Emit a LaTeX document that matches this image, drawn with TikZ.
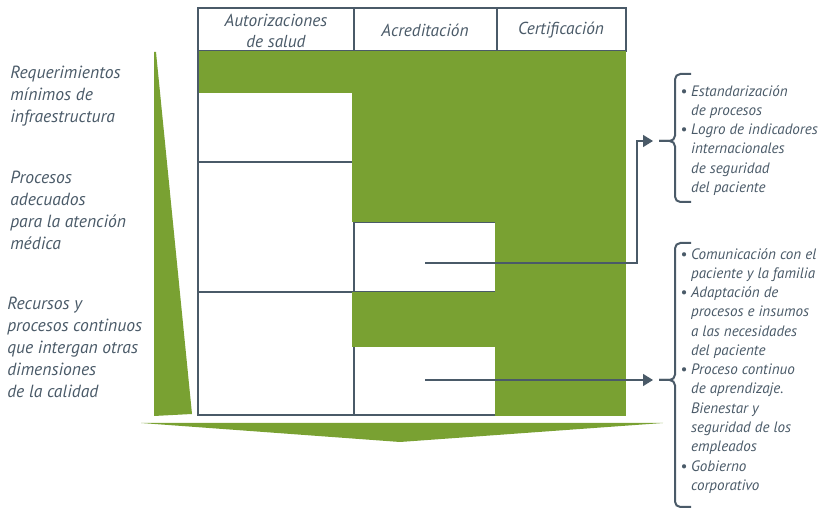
\documentclass[tikz,border=0pt]{standalone}
\usepackage{fontspec}
\setmainfont{PT Sans}
\usetikzlibrary{arrows.meta,calc}
\definecolor{leaf}{RGB}{121,161,50}
\definecolor{slate}{RGB}{74,90,104}

\begin{document}
\begin{tikzpicture}[x=0.75pt, y=-0.75pt,
      grid/.style = {draw=slate, line width=1.1pt},
      head/.style = {align=center, inner sep=0pt, text=slate,
        font=\fontsize{13}{15.75}\selectfont\itshape},
      side/.style = {align=left, anchor=north west, inner sep=0pt, text=slate,
        font=\fontsize{13.2}{16.5}\selectfont\itshape},
      items/.style = {align=left, anchor=north west, inner sep=0pt, text=slate,
        font=\fontsize{11.3}{14.45}\selectfont\itshape},
      link/.style = {draw=slate, line width=1.1pt, -{Triangle[length=7.5pt,width=9pt]}},
      brace/.style = {draw=slate, line width=1.5pt, rounded corners=4pt}]
    \useasboundingbox (0,0) rectangle (826,509);

    % wedges
    \fill[leaf] (154,52) -- (156,52) -- (192,414) -- (154,416) -- cycle;
    \fill[leaf] (141,423) -- (663,423) -- (400,442) -- cycle;

    % table cells
    \draw[grid] (198,8) rectangle (354,51);
    \draw[grid] (354,8) rectangle (497,51);
    \draw[grid] (497,8) rectangle (626,51);
    \draw[grid] (198,51) rectangle (354,162);
    \draw[grid] (198,162) rectangle (354,292);
    \draw[grid] (198,292) rectangle (354,415);
    \draw[grid] (354,222) rectangle (497,292);
    \draw[grid] (354,292) rectangle (497,415);

    % green blocks
    \fill[leaf] (198.7,51) rectangle (626,93);
    \fill[leaf] (352,93) rectangle (626,222);
    \fill[leaf] (495,222) rectangle (626,416);
    \fill[leaf] (352,292) rectangle (626,347);

    % headers
    \node[head] (auth) at (276,31) {Autorizaciones\\de salud};
    \node[head] (accr) at (425,30) {Acreditación};
    \node[head] (cert) at (561,30) {Certificación};

    % side labels
    \node[side] (infra) at (10,66) {Requerimientos\\mínimos de\\infraestructura};
    \node[side] (proc) at (10,171) {Procesos\\adecuados\\para la atención\\médica};
    \node[side] (recur) at (7,297) {Recursos y\\procesos continuos\\que intergan otras\\dimensiones\\de la calidad};

    % item lists
    \node[items] (listA) at (680,85) {\textbullet\ Estandarización\\
      \phantom{\textbullet\ }de procesos\\
      \textbullet\ Logro de indicadores\\
      \phantom{\textbullet\ }internacionales\\
      \phantom{\textbullet\ }de seguridad\\
      \phantom{\textbullet\ }del paciente};
    \node[items] (listB) at (680,248) {\textbullet\ Comunicación con el\\
      \phantom{\textbullet\ }paciente y la familia\\
      \textbullet\ Adaptación de\\
      \phantom{\textbullet\ }procesos e insumos\\
      \phantom{\textbullet\ }a las necesidades\\
      \phantom{\textbullet\ }del paciente\\
      \textbullet\ Proceso continuo\\
      \phantom{\textbullet\ }de aprendizaje.\\
      \phantom{\textbullet\ }Bienestar y\\
      \phantom{\textbullet\ }seguridad de los\\
      \phantom{\textbullet\ }empleados\\
      \textbullet\ Gobierno\\
      \phantom{\textbullet\ }corporativo};

    % braces
    \draw[brace] (691,74) -- (675,74) -- (675,141) -- (659,141);
    \draw[brace] (659,141) -- (675,141) -- (675,202) -- (691,202);
    \draw[brace] (691,243) -- (675,243) -- (675,380) -- (659,380);
    \draw[brace] (659,380) -- (675,380) -- (675,507) -- (691,507);

    % connectors
    \coordinate (fromA) at (425,263);
    \coordinate (toA) at (653,141);
    \coordinate (fromB) at (425,380);
    \coordinate (toB) at (653,380);
    \draw[link] (fromA) -| ($(toA)+(-16,0)$) -- (toA);
    \draw[link] (fromB) -- (toB);

  \end{tikzpicture}
\end{document}
